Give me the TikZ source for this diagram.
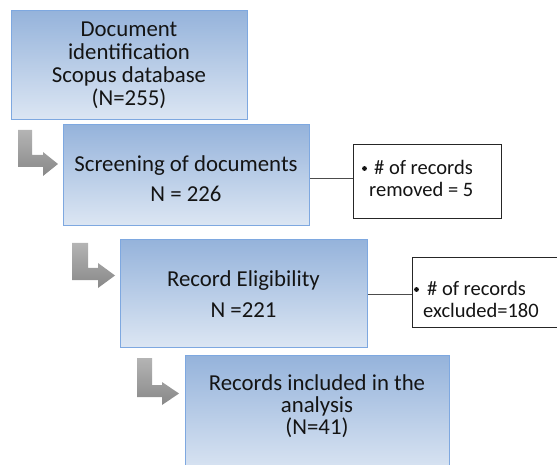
\documentclass[tikz,border=0pt]{standalone}
\usepackage{fontspec}
\setmainfont{Carlito}
\definecolor{boxtop}{RGB}{149,179,219}
\definecolor{boxbot}{RGB}{220,230,243}
\definecolor{boxline}{RGB}{126,168,224}
\definecolor{arrtop}{RGB}{180,180,180}
\definecolor{arrbot}{RGB}{136,136,136}
\definecolor{txt}{RGB}{20,20,20}
\tikzset{
  stagebox/.style={draw=boxline, line width=0.8pt, top color=boxtop, bottom color=boxbot,
    inner sep=0pt, anchor=north west},
  notebox/.style={draw=black!85, line width=0.8pt, fill=white, inner sep=0pt, anchor=north west},
  bigtxt/.style={anchor=base, inner sep=0pt, font=\fontsize{22.8}{26}\selectfont, text=txt},
  smalltxt/.style={anchor=base west, inner sep=0pt, font=\fontsize{20.5}{24}\selectfont, text=txt},
  bentarrow/.style={top color=arrtop, bottom color=arrbot, draw=none},
  link/.style={draw=black!70, line width=0.8pt}
}
\begin{document}
\begin{tikzpicture}[x=1pt,y=-1pt]
\useasboundingbox (0,0) rectangle (557,465);
\clip (0,0) rectangle (557,465);

% stage boxes
\node[stagebox, minimum width=236pt, minimum height=109pt] (b1) at (11,10) {};
\node[stagebox, minimum width=246pt, minimum height=101pt] (b2) at (63,124) {};
\node[stagebox, minimum width=247pt, minimum height=108pt] (b3) at (120,239) {};
\node[stagebox, minimum width=264pt, minimum height=120pt] (b4) at (185,355) {};

% side notes
\node[notebox, minimum width=148pt, minimum height=74pt] (s1) at (353,144) {};
\node[notebox, minimum width=146pt, minimum height=70pt] (s2) at (412,257) {};

\draw[link] (b2.east |- 0,178) -- (s1.west |- 0,178);
\draw[link] (b3.east |- 0,294) -- (s2.west |- 0,294);

% bent arrows between stages
\path[bentarrow] (18,130) -- (32,130) -- (32,155) -- (43,155) -- (43,152) -- (58,164)
  -- (43,176) -- (43,167) -- (18,167) -- cycle;
\path[bentarrow] (72,243) -- (88,243) -- (88,268) -- (98,268) -- (98,263) -- (115,275.5)
  -- (98,288) -- (98,280) -- (72,280) -- cycle;
\path[bentarrow] (137,358) -- (152,358) -- (152,385) -- (162,385) -- (162,382) -- (179,393.5)
  -- (162,405) -- (162,397) -- (137,397) -- cycle;

% stage texts
\node[bigtxt] (t1a) at (129,37) {Document};
\node[bigtxt] (t1b) at (129,60) {identification};
\node[bigtxt] (t1c) at (129,83) {Scopus database};
\node[bigtxt] (t1d) at (129,106) {(N=255)};

\node[bigtxt] (t2a) at (186,171.5) {Screening of documents};
\node[bigtxt] (t2b) at (186,201.5) {N = 226};

\node[bigtxt] (t3a) at (243.5,286) {Record Eligibility};
\node[bigtxt] (t3b) at (243.5,317) {N =221};

\node[bigtxt] (t4a) at (317,390) {Records included in the};
\node[bigtxt] (t4b) at (317,412.7) {analysis};
\node[bigtxt] (t4c) at (317,434.5) {(N=41)};

% note texts
\fill[txt] (364.5,168.5) circle (2.4pt);
\node[smalltxt] (n1a) at (374,174.5) {\# of records};
\node[smalltxt] (n1b) at (369,197) {removed = 5};

\fill[txt] (416.5,289.5) circle (2.4pt);
\node[smalltxt] (n2a) at (427,295.5) {\# of records};
\node[smalltxt] (n2b) at (423,317.5) {excluded=180};
\end{tikzpicture}
\end{document}
